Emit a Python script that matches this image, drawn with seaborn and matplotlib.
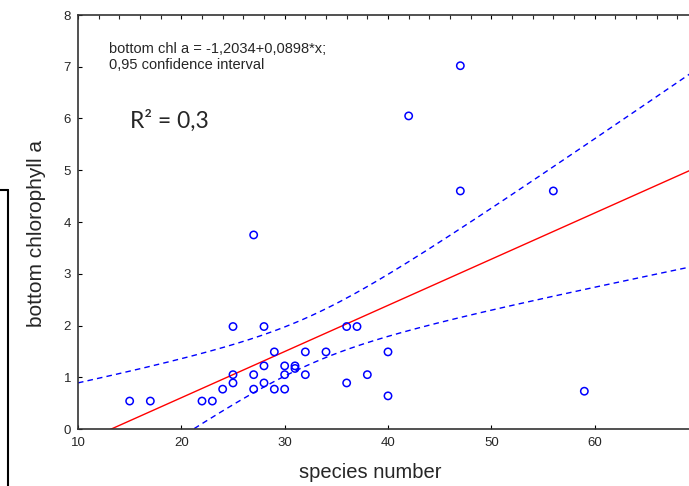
import numpy as np
import pandas as pd
import matplotlib
matplotlib.use("Agg")
import matplotlib.pyplot as plt
import seaborn as sns
from matplotlib.lines import Line2D
from matplotlib.ticker import MultipleLocator

# Data (species number vs bottom chlorophyll a)
species = [15, 17, 22, 23, 24, 25, 25, 25, 27, 27, 27, 28, 28, 28, 29, 29, 30, 30, 30,
           31, 31, 32, 32, 34, 36, 36, 37, 38, 40, 40, 42, 47, 47, 56, 59]
chl = [0.54, 0.54, 0.54, 0.54, 0.77, 1.98, 1.05, 0.89, 3.75, 1.05, 0.77, 1.98, 1.22, 0.89,
       1.49, 0.77, 1.22, 1.05, 0.77, 1.22, 1.17, 1.49, 1.05, 1.49, 1.98, 0.89, 1.98, 1.05,
       1.49, 0.64, 6.05, 7.02, 4.6, 4.6, 0.73]
x_ticks = [10, 20, 30, 40, 50, 60, 70]
y_ticks = [0, 1, 2, 3, 4, 5, 6, 7, 8]

data = pd.DataFrame({"species": species, "chl": chl})

# Linear fit and 0.95 confidence band for the mean
x = data["species"].to_numpy(float)
y = data["chl"].to_numpy(float)
n = len(x)
slope, intercept = np.polyfit(x, y, 1)
resid = y - (intercept + slope * x)
s = np.sqrt(np.sum(resid ** 2) / (n - 2))
sxx = np.sum((x - x.mean()) ** 2)
t_val = 2.035  # t(0.975, df=33)
grid = np.linspace(10, 70, 200)
pred = intercept + slope * grid
half = t_val * s * np.sqrt(1 / n + (grid - x.mean()) ** 2 / sxx)
fit = pd.DataFrame({"x": grid, "pred": pred, "lo": pred - half, "hi": pred + half})

sns.set_style("white")
plt.rcParams["font.family"] = ["Liberation Sans", "DejaVu Sans"]

fig = plt.figure(figsize=(6.89, 4.86), dpi=100)
ax = fig.add_axes([78 / 689, 57 / 486, 620 / 689, 414 / 486])

sns.lineplot(data=fit, x="x", y="pred", color="red", lw=1, ax=ax)
sns.lineplot(data=fit, x="x", y="hi", color="blue", lw=1, ax=ax)
sns.lineplot(data=fit, x="x", y="lo", color="blue", lw=1, ax=ax)
for line in ax.lines[1:]:
    line.set_dashes([4, 3])
sns.scatterplot(data=data, x="species", y="chl", marker="o", s=28,
                facecolor="none", edgecolor="blue", linewidth=1.1, ax=ax, zorder=5)

ax.set_xlim(10, 70)
ax.set_ylim(0, 8)
ax.set_xticks(x_ticks)
ax.set_yticks(y_ticks)
ax.xaxis.set_minor_locator(MultipleLocator(2))
ax.tick_params(axis="both", which="major", direction="in", length=3, width=0.8,
               labelsize=9.5, top=True, bottom=True, left=True, color="black", pad=6)
ax.tick_params(axis="y", pad=5)
ax.tick_params(axis="x", which="minor", direction="in", length=3, width=0.8,
               top=True, bottom=False)
for sp in ax.spines.values():
    sp.set_color("#333333")
    sp.set_linewidth(1.2)

ax.set_xlabel("species number", fontsize=14.5)
ax.xaxis.set_label_coords(0.471, -0.083)
ax.set_ylabel("bottom chlorophyll a", fontsize=15)
ax.yaxis.set_label_coords(-0.051, 0.473)

ax.text(0.05, 0.935, "bottom chl a = -1,2034+0,0898*x;\n0,95 confidence interval",
        transform=ax.transAxes, fontsize=10.5, va="top", linespacing=1.15)
fig.text(130 / 689, 1 - 121 / 486, "R² = 0,3", fontsize=16.5,
         family=["Lato", "DejaVu Sans"], va="center")

# Fragment of a box at the left edge
fig.add_artist(Line2D([8 / 689, 8 / 689], [0, 1 - 190 / 486], transform=fig.transFigure,
                      color="black", lw=1.5))
fig.add_artist(Line2D([0, 8 / 689], [1 - 190 / 486, 1 - 190 / 486],
                      transform=fig.transFigure, color="black", lw=1.5))

fig.savefig("out.png", dpi=100)
